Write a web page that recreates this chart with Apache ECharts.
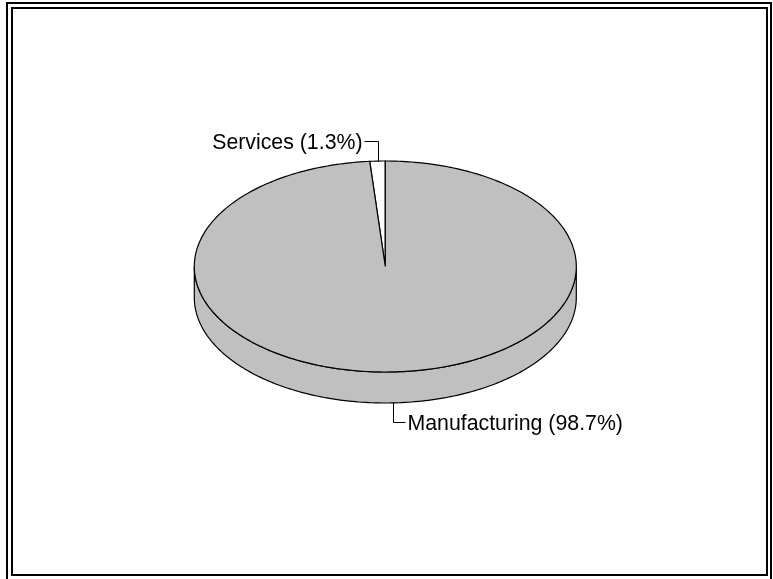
<!DOCTYPE html>
<html>
<head>
<meta charset="utf-8">
<script src="https://cdn.jsdelivr.net/npm/echarts@6/dist/echarts.min.js"></script>
<style>
html,body{margin:0;padding:0;background:#fff;}
#chart{width:773px;height:579px;}
</style>
</head>
<body>
<div id="chart"></div>
<script>
// ---- data ----
const categories = ['Services', 'Manufacturing'];
const shares = [1.3, 98.7];            // percent
const sliceColors = ['#ffffff', '#c0c0c0'];

// ---- layout / style ----
const START_ANGLE = 90;   // degrees, 12 o'clock, slices run counter-clockwise
const DEPTH = 0.294;      // pie thickness in y data units
const FONT = '21.3px "Liberation Sans", Arial, sans-serif';

const total = shares.reduce((a, b) => a + b, 0);
const starts = [];
let acc = START_ANGLE;
shares.forEach(v => { starts.push(acc); acc += v / total * 360; });

function rad(d) { return d * Math.PI / 180; }
function arcPts(api, a0, a1, yOff) {
  const n = Math.max(2, Math.ceil(Math.abs(a1 - a0)));
  const pts = [];
  for (let i = 0; i <= n; i++) {
    const t = rad(a0 + (a1 - a0) * i / n);
    pts.push(api.coord([Math.cos(t), Math.sin(t) + yOff]));
  }
  return pts;
}
function sliceRange(i) {
  return [starts[i], starts[i] + shares[i] / total * 360];
}

const lineStyle = { stroke: '#000', lineWidth: 1.2 };

function renderSide(params, api) {
  const i = params.dataIndex;
  const [a0, a1] = sliceRange(i);
  const children = [];
  for (let k = -1; k <= 2; k++) {
    const s = Math.max(a0, 180 + 360 * k);
    const e = Math.min(a1, 360 + 360 * k);
    if (e > s) {
      const top = arcPts(api, s, e, 0);
      const bot = arcPts(api, e, s, -DEPTH);
      children.push({
        type: 'polygon',
        shape: { points: top.concat(bot) },
        style: Object.assign({ fill: sliceColors[i] }, lineStyle)
      });
    }
  }
  return { type: 'group', children: children };
}

function renderTop(params, api) {
  const i = params.dataIndex;
  const [a0, a1] = sliceRange(i);
  const c = api.coord([0, 0]);
  const pts = [c].concat(arcPts(api, a0, a1, 0));
  const children = [{
    type: 'polygon',
    shape: { points: pts },
    style: Object.assign({ fill: sliceColors[i] }, lineStyle)
  }];
  // label with leader line
  const mid = rad((a0 + a1) / 2);
  const up = Math.sin(mid) >= 0;
  const right = Math.cos(mid) >= 0;
  const anchor = api.coord([Math.cos(mid), Math.sin(mid) + (up ? 0 : -DEPTH)]);
  const ax = Math.round(anchor[0]) + 0.5;
  const ay = anchor[1];
  const vy = Math.round(up ? ay - 20 : ay + 19) + 0.5;
  const hx = right ? ax + 12 : ax - 14;
  children.push({
    type: 'polyline',
    shape: { points: [[ax, ay], [ax, vy], [hx, vy]] },
    style: { stroke: '#000', lineWidth: 1, fill: null }
  });
  const text = categories[i] + ' (' + shares[i].toFixed(1) + '%)';
  children.push({
    type: 'text',
    x: right ? hx + 2 : hx - 2,
    y: vy + 1.5,
    style: {
      text: text,
      font: FONT,
      fill: '#000',
      align: right ? 'left' : 'right',
      verticalAlign: 'middle'
    }
  });
  return { type: 'group', children: children };
}

const chart = echarts.init(document.getElementById('chart'), null, { renderer: 'canvas' });
const data = shares.map((v, i) => [i, v]);
chart.setOption({
  animation: false,
  backgroundColor: '#ffffff',
  grid: { left: 194.3, top: 161, width: 382, height: 105.5 * (2 + DEPTH) },
  xAxis: { type: 'value', min: -1, max: 1, show: false },
  yAxis: { type: 'value', min: -1 - DEPTH, max: 1, show: false },
  graphic: [
    { type: 'rect', shape: { x: 7, y: 3, width: 764, height: 580 },
      style: { fill: null, stroke: '#000', lineWidth: 2 }, silent: true },
    { type: 'rect', shape: { x: 12, y: 8, width: 755, height: 567 },
      style: { fill: null, stroke: '#000', lineWidth: 2 }, silent: true }
  ],
  series: [
    { type: 'custom', name: 'side', data: data, renderItem: renderSide, clip: false, z: 1,
      encode: { x: -1, y: -1 } },
    { type: 'custom', name: 'top', data: data, renderItem: renderTop, clip: false, z: 2,
      encode: { x: -1, y: -1 } }
  ]
});
</script>
</body>
</html>
